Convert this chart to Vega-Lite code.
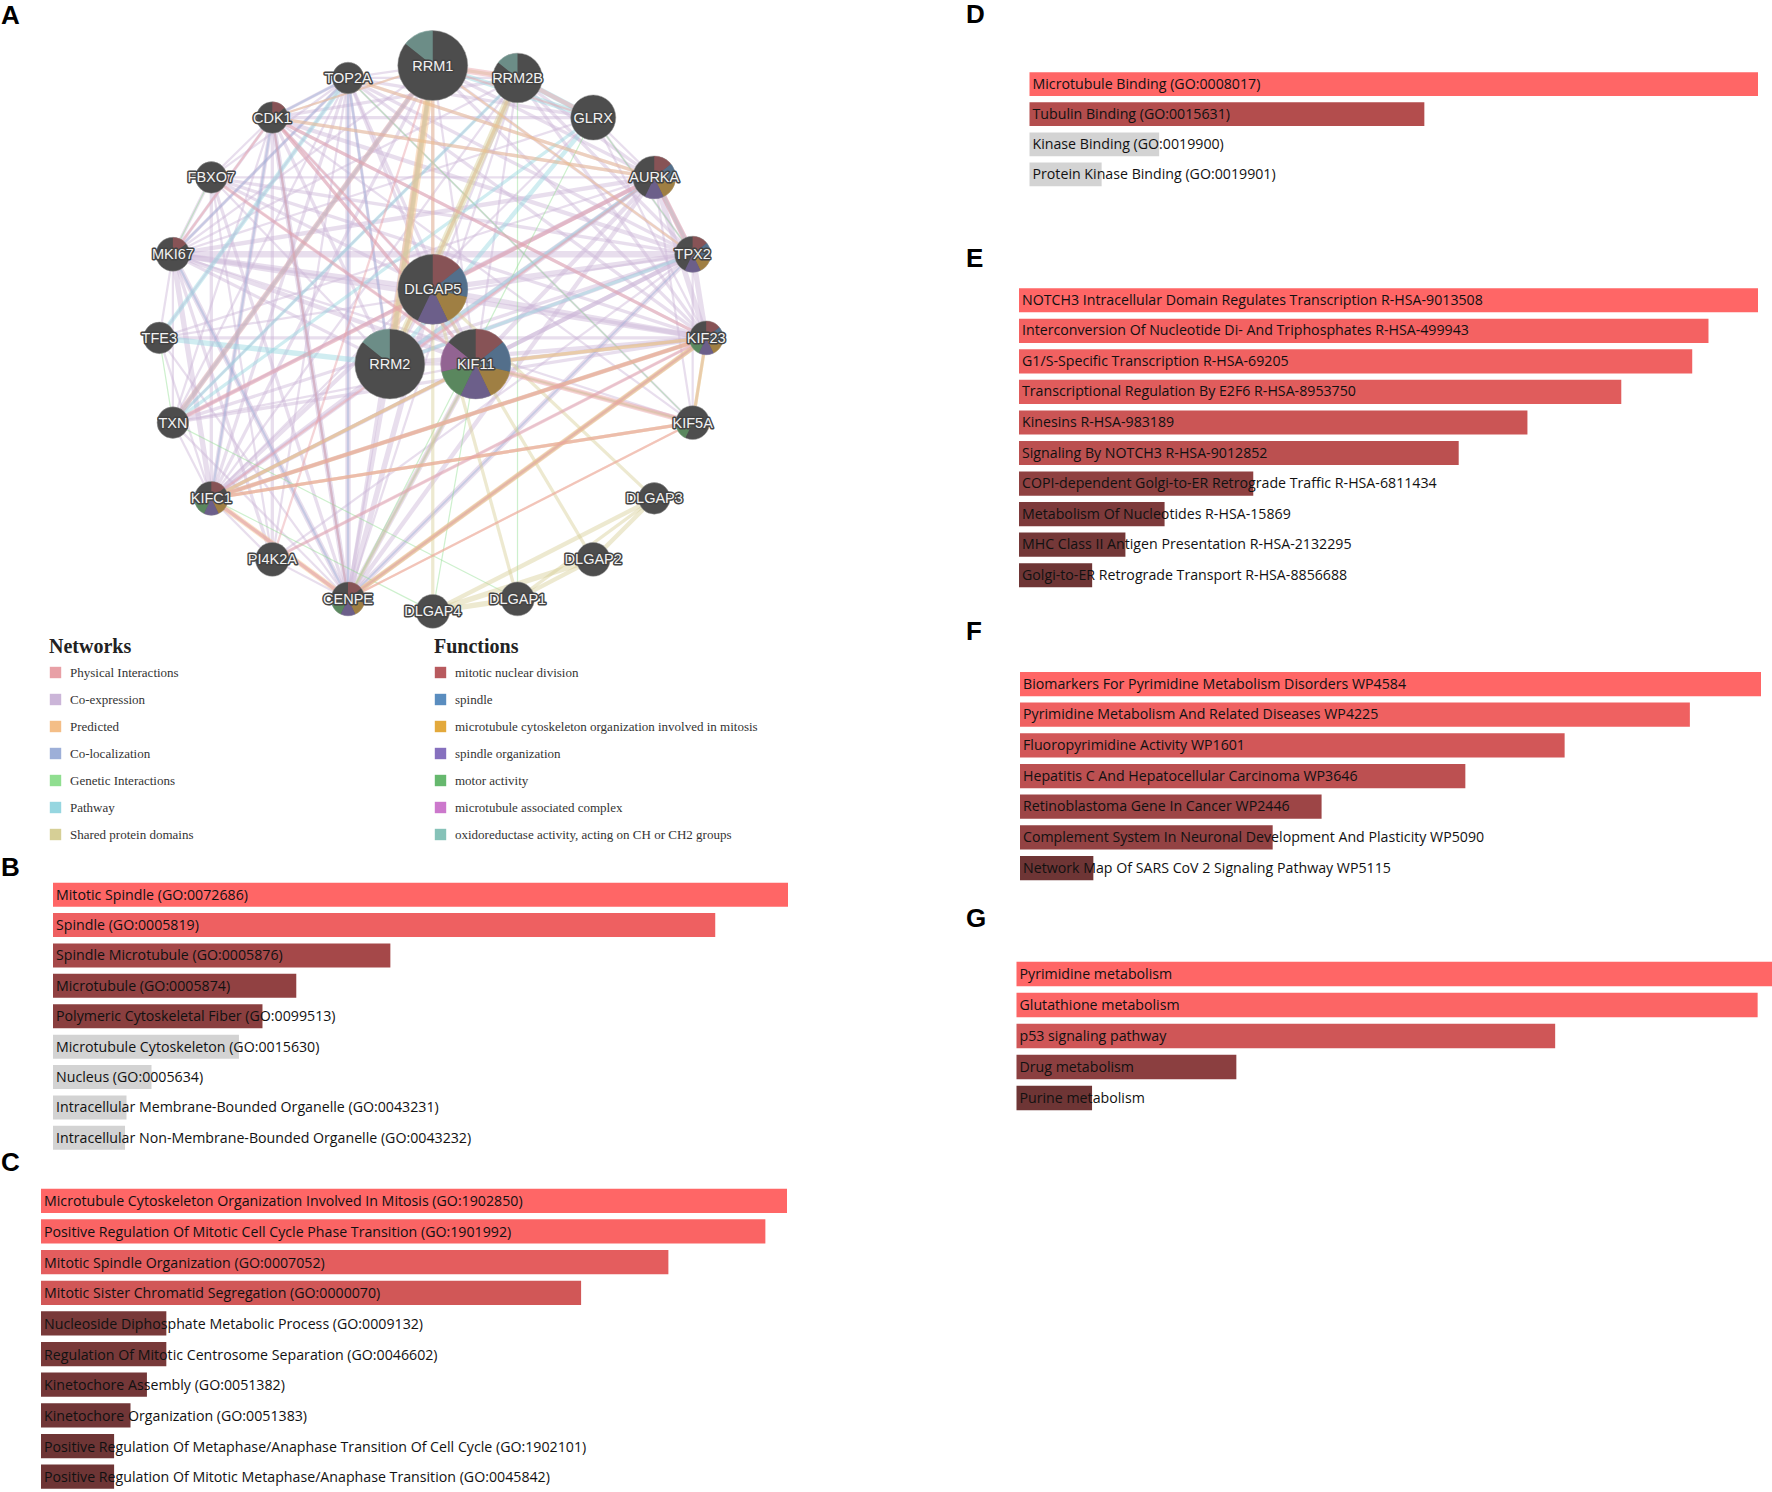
{"$schema":"https://vega.github.io/schema/vega-lite/v6.json","padding":0,"background":"white","config":{"view":{"stroke":null}},
"datasets":{
"nodes":[{"id":"RRM1","x":383,"y":58,"weight":31},{"id":"RRM2B","x":458,"y":69,"weight":22},{"id":"GLRX","x":525,"y":104,"weight":20},{"id":"AURKA","x":579,"y":157,"weight":19},{"id":"TPX2","x":613,"y":225,"weight":16},{"id":"KIF23","x":625,"y":299,"weight":15},{"id":"KIF5A","x":613,"y":374,"weight":15},{"id":"DLGAP3","x":579,"y":441,"weight":14},{"id":"DLGAP2","x":525,"y":495,"weight":15},{"id":"DLGAP1","x":458,"y":530,"weight":15},{"id":"DLGAP4","x":383,"y":541,"weight":15},{"id":"CENPE","x":308,"y":530,"weight":15},{"id":"PI4K2A","x":241,"y":495,"weight":15},{"id":"KIFC1","x":187,"y":441,"weight":15},{"id":"TXN","x":153,"y":374,"weight":14},{"id":"TFE3","x":141,"y":299,"weight":14},{"id":"MKI67","x":153,"y":225,"weight":15},{"id":"FBXO7","x":187,"y":157,"weight":14},{"id":"CDK1","x":241,"y":104,"weight":14},{"id":"TOP2A","x":308,"y":69,"weight":14},{"id":"DLGAP5","x":383,"y":256,"weight":31},{"id":"RRM2","x":345,"y":322,"weight":31},{"id":"KIF11","x":421,"y":322,"weight":31}],
"slices":[
{"id":"RRM1","f":"oxidoreductase activity, acting on CH or CH2 groups","a0":6,"a1":7},
{"id":"RRM2B","f":"oxidoreductase activity, acting on CH or CH2 groups","a0":6,"a1":7},
{"id":"RRM2","f":"oxidoreductase activity, acting on CH or CH2 groups","a0":6,"a1":7},
{"id":"DLGAP5","f":"mitotic nuclear division","a0":0,"a1":1},{"id":"DLGAP5","f":"spindle","a0":1,"a1":2},{"id":"DLGAP5","f":"microtubule cytoskeleton organization involved in mitosis","a0":2,"a1":3},{"id":"DLGAP5","f":"spindle organization","a0":3,"a1":4},
{"id":"KIF11","f":"mitotic nuclear division","a0":0,"a1":1},{"id":"KIF11","f":"spindle","a0":1,"a1":2},{"id":"KIF11","f":"microtubule cytoskeleton organization involved in mitosis","a0":2,"a1":3},{"id":"KIF11","f":"spindle organization","a0":3,"a1":4},{"id":"KIF11","f":"motor activity","a0":4,"a1":5},{"id":"KIF11","f":"microtubule associated complex","a0":5,"a1":6},
{"id":"AURKA","f":"mitotic nuclear division","a0":0,"a1":1},{"id":"AURKA","f":"spindle","a0":1,"a1":2},{"id":"AURKA","f":"microtubule cytoskeleton organization involved in mitosis","a0":2,"a1":3},{"id":"AURKA","f":"spindle organization","a0":3,"a1":4},
{"id":"TPX2","f":"mitotic nuclear division","a0":0,"a1":1},{"id":"TPX2","f":"spindle","a0":1,"a1":2},{"id":"TPX2","f":"microtubule cytoskeleton organization involved in mitosis","a0":2,"a1":3},{"id":"TPX2","f":"spindle organization","a0":3,"a1":4},
{"id":"KIF23","f":"mitotic nuclear division","a0":0,"a1":1},{"id":"KIF23","f":"spindle","a0":1,"a1":2},{"id":"KIF23","f":"microtubule cytoskeleton organization involved in mitosis","a0":2,"a1":3},{"id":"KIF23","f":"spindle organization","a0":3,"a1":4},{"id":"KIF23","f":"motor activity","a0":4,"a1":5},
{"id":"KIFC1","f":"mitotic nuclear division","a0":0,"a1":1},{"id":"KIFC1","f":"microtubule cytoskeleton organization involved in mitosis","a0":2,"a1":3},{"id":"KIFC1","f":"spindle organization","a0":3,"a1":4},{"id":"KIFC1","f":"motor activity","a0":4,"a1":5},
{"id":"CENPE","f":"mitotic nuclear division","a0":0,"a1":1},{"id":"CENPE","f":"microtubule cytoskeleton organization involved in mitosis","a0":2,"a1":3},{"id":"CENPE","f":"spindle organization","a0":3,"a1":4},{"id":"CENPE","f":"motor activity","a0":4,"a1":5},
{"id":"CDK1","f":"mitotic nuclear division","a0":0,"a1":1},{"id":"MKI67","f":"mitotic nuclear division","a0":0,"a1":1},{"id":"KIF5A","f":"motor activity","a0":4,"a1":5}],
"edges":[
{"s":"TOP2A","t":"CDK1","n":"Co-expression","w":3},{"s":"TOP2A","t":"MKI67","n":"Co-expression","w":3},{"s":"TOP2A","t":"KIFC1","n":"Co-expression","w":3},{"s":"TOP2A","t":"CENPE","n":"Co-expression","w":5},{"s":"TOP2A","t":"KIF23","n":"Co-expression","w":3},{"s":"TOP2A","t":"TPX2","n":"Co-expression","w":3},{"s":"TOP2A","t":"AURKA","n":"Co-expression","w":3},{"s":"TOP2A","t":"DLGAP5","n":"Co-expression","w":3},{"s":"TOP2A","t":"KIF11","n":"Co-expression","w":3},{"s":"TOP2A","t":"RRM2","n":"Co-expression","w":3},{"s":"TOP2A","t":"RRM1","n":"Co-expression","w":2},
{"s":"CDK1","t":"MKI67","n":"Co-expression","w":3},{"s":"CDK1","t":"KIFC1","n":"Co-expression","w":4},{"s":"CDK1","t":"CENPE","n":"Co-expression","w":5},{"s":"CDK1","t":"KIF23","n":"Co-expression","w":3},{"s":"CDK1","t":"TPX2","n":"Co-expression","w":4},{"s":"CDK1","t":"AURKA","n":"Co-expression","w":3},{"s":"CDK1","t":"DLGAP5","n":"Co-expression","w":3},{"s":"CDK1","t":"KIF11","n":"Co-expression","w":3},{"s":"CDK1","t":"RRM2","n":"Co-expression","w":3},{"s":"CDK1","t":"RRM1","n":"Co-expression","w":2},
{"s":"MKI67","t":"KIFC1","n":"Co-expression","w":5},{"s":"MKI67","t":"CENPE","n":"Co-expression","w":5},{"s":"MKI67","t":"KIF23","n":"Co-expression","w":5},{"s":"MKI67","t":"TPX2","n":"Co-expression","w":6},{"s":"MKI67","t":"AURKA","n":"Co-expression","w":4},{"s":"MKI67","t":"DLGAP5","n":"Co-expression","w":5},{"s":"MKI67","t":"KIF11","n":"Co-expression","w":4},{"s":"MKI67","t":"RRM2","n":"Co-expression","w":3},{"s":"MKI67","t":"RRM1","n":"Co-expression","w":2},
{"s":"KIFC1","t":"CENPE","n":"Co-expression","w":3},{"s":"KIFC1","t":"KIF23","n":"Co-expression","w":4},{"s":"KIFC1","t":"TPX2","n":"Co-expression","w":4},{"s":"KIFC1","t":"AURKA","n":"Co-expression","w":4},{"s":"KIFC1","t":"DLGAP5","n":"Co-expression","w":4},{"s":"KIFC1","t":"KIF11","n":"Co-expression","w":3},{"s":"KIFC1","t":"RRM2","n":"Co-expression","w":3},{"s":"KIFC1","t":"RRM1","n":"Co-expression","w":3},
{"s":"CENPE","t":"KIF23","n":"Co-expression","w":4},{"s":"CENPE","t":"TPX2","n":"Co-expression","w":5},{"s":"CENPE","t":"AURKA","n":"Co-expression","w":4},{"s":"CENPE","t":"DLGAP5","n":"Co-expression","w":5},{"s":"CENPE","t":"KIF11","n":"Co-expression","w":5},{"s":"CENPE","t":"RRM2","n":"Co-expression","w":4},{"s":"CENPE","t":"RRM1","n":"Co-expression","w":3},
{"s":"KIF23","t":"TPX2","n":"Co-expression","w":5},{"s":"KIF23","t":"AURKA","n":"Co-expression","w":5},{"s":"KIF23","t":"DLGAP5","n":"Co-expression","w":5},{"s":"KIF23","t":"KIF11","n":"Co-expression","w":4},{"s":"KIF23","t":"RRM2","n":"Co-expression","w":4},{"s":"KIF23","t":"RRM1","n":"Co-expression","w":3},
{"s":"TPX2","t":"AURKA","n":"Co-expression","w":5},{"s":"TPX2","t":"DLGAP5","n":"Co-expression","w":5},{"s":"TPX2","t":"KIF11","n":"Co-expression","w":4},{"s":"TPX2","t":"RRM2","n":"Co-expression","w":4},{"s":"TPX2","t":"RRM1","n":"Co-expression","w":3},
{"s":"AURKA","t":"DLGAP5","n":"Co-expression","w":4},{"s":"AURKA","t":"KIF11","n":"Co-expression","w":4},{"s":"AURKA","t":"RRM2","n":"Co-expression","w":4},{"s":"AURKA","t":"RRM1","n":"Co-expression","w":3},
{"s":"DLGAP5","t":"KIF11","n":"Co-expression","w":3},{"s":"DLGAP5","t":"RRM2","n":"Co-expression","w":3},{"s":"DLGAP5","t":"RRM1","n":"Co-expression","w":3},{"s":"KIF11","t":"RRM2","n":"Co-expression","w":3},{"s":"KIF11","t":"RRM1","n":"Co-expression","w":2},{"s":"RRM2","t":"RRM1","n":"Co-expression","w":3},
{"s":"TXN","t":"RRM1","n":"Co-expression","w":2},{"s":"TXN","t":"MKI67","n":"Co-expression","w":2},{"s":"TXN","t":"KIF23","n":"Co-expression","w":3},{"s":"TXN","t":"TPX2","n":"Co-expression","w":3},{"s":"TXN","t":"CDK1","n":"Co-expression","w":2},{"s":"TXN","t":"TOP2A","n":"Co-expression","w":2},{"s":"TXN","t":"KIFC1","n":"Co-expression","w":2},{"s":"TXN","t":"CENPE","n":"Co-expression","w":2},{"s":"TXN","t":"AURKA","n":"Co-expression","w":3},{"s":"TXN","t":"DLGAP5","n":"Co-expression","w":2},{"s":"TXN","t":"KIF11","n":"Co-expression","w":2},
{"s":"TFE3","t":"MKI67","n":"Co-expression","w":2},{"s":"TFE3","t":"KIF23","n":"Co-expression","w":3},{"s":"TFE3","t":"TOP2A","n":"Co-expression","w":2},{"s":"TFE3","t":"KIFC1","n":"Co-expression","w":2},{"s":"TFE3","t":"CENPE","n":"Co-expression","w":2},{"s":"TFE3","t":"TPX2","n":"Co-expression","w":2},{"s":"TFE3","t":"AURKA","n":"Co-expression","w":2},
{"s":"FBXO7","t":"KIFC1","n":"Co-expression","w":3},{"s":"FBXO7","t":"MKI67","n":"Co-expression","w":3},{"s":"FBXO7","t":"CENPE","n":"Co-expression","w":3},{"s":"FBXO7","t":"KIF23","n":"Co-expression","w":3},{"s":"FBXO7","t":"TPX2","n":"Co-expression","w":3},{"s":"FBXO7","t":"TOP2A","n":"Co-expression","w":2},{"s":"FBXO7","t":"CDK1","n":"Co-expression","w":2},{"s":"FBXO7","t":"AURKA","n":"Co-expression","w":2},{"s":"FBXO7","t":"DLGAP5","n":"Co-expression","w":3},{"s":"FBXO7","t":"KIF11","n":"Co-expression","w":2},{"s":"FBXO7","t":"RRM2","n":"Co-expression","w":2},
{"s":"RRM2B","t":"TPX2","n":"Co-expression","w":3},{"s":"RRM2B","t":"KIF23","n":"Co-expression","w":3},{"s":"RRM2B","t":"AURKA","n":"Co-expression","w":3},{"s":"RRM2B","t":"MKI67","n":"Co-expression","w":2},{"s":"RRM2B","t":"CDK1","n":"Co-expression","w":3},{"s":"RRM2B","t":"TOP2A","n":"Co-expression","w":2},{"s":"RRM2B","t":"KIFC1","n":"Co-expression","w":2},{"s":"RRM2B","t":"CENPE","n":"Co-expression","w":2},{"s":"RRM2B","t":"DLGAP5","n":"Co-expression","w":2},{"s":"RRM2B","t":"KIF11","n":"Co-expression","w":2},{"s":"RRM2B","t":"TXN","n":"Co-expression","w":2},
{"s":"GLRX","t":"CDK1","n":"Co-expression","w":3},{"s":"GLRX","t":"TOP2A","n":"Co-expression","w":3},{"s":"GLRX","t":"MKI67","n":"Co-expression","w":2},{"s":"GLRX","t":"KIFC1","n":"Co-expression","w":2},{"s":"GLRX","t":"TPX2","n":"Co-expression","w":2},{"s":"GLRX","t":"AURKA","n":"Co-expression","w":2},{"s":"GLRX","t":"KIF23","n":"Co-expression","w":2},
{"s":"PI4K2A","t":"KIFC1","n":"Co-expression","w":2},{"s":"PI4K2A","t":"CENPE","n":"Co-expression","w":2},{"s":"PI4K2A","t":"TOP2A","n":"Co-expression","w":2},{"s":"PI4K2A","t":"MKI67","n":"Co-expression","w":3},{"s":"PI4K2A","t":"CDK1","n":"Co-expression","w":3},{"s":"PI4K2A","t":"FBXO7","n":"Co-expression","w":2},{"s":"PI4K2A","t":"KIF23","n":"Co-expression","w":2},{"s":"PI4K2A","t":"TPX2","n":"Co-expression","w":2},
{"s":"KIF5A","t":"KIF23","n":"Co-expression","w":2},{"s":"KIF5A","t":"TPX2","n":"Co-expression","w":2},{"s":"KIF5A","t":"CDK1","n":"Co-expression","w":2},{"s":"KIF5A","t":"TOP2A","n":"Co-expression","w":2},{"s":"KIF5A","t":"MKI67","n":"Co-expression","w":2},{"s":"KIF5A","t":"AURKA","n":"Co-expression","w":2},
{"s":"TOP2A","t":"CENPE","n":"Co-localization","w":2},{"s":"CDK1","t":"CENPE","n":"Co-localization","w":2},{"s":"MKI67","t":"CENPE","n":"Co-localization","w":2},{"s":"TOP2A","t":"RRM2","n":"Co-localization","w":2},{"s":"KIF23","t":"CENPE","n":"Co-localization","w":1.5},{"s":"KIF11","t":"CENPE","n":"Co-localization","w":1.5},{"s":"TOP2A","t":"MKI67","n":"Co-localization","w":2},{"s":"CDK1","t":"TOP2A","n":"Co-localization","w":2},{"s":"CDK1","t":"KIFC1","n":"Co-localization","w":2},{"s":"TPX2","t":"CENPE","n":"Co-localization","w":1.5},
{"s":"TFE3","t":"TXN","n":"Genetic Interactions","w":1},{"s":"TXN","t":"DLGAP1","n":"Genetic Interactions","w":1},{"s":"FBXO7","t":"MKI67","n":"Genetic Interactions","w":1},{"s":"RRM2B","t":"DLGAP1","n":"Genetic Interactions","w":1},{"s":"KIF11","t":"DLGAP4","n":"Genetic Interactions","w":1},{"s":"KIF5A","t":"KIF11","n":"Genetic Interactions","w":1},{"s":"GLRX","t":"TPX2","n":"Genetic Interactions","w":1},{"s":"GLRX","t":"CENPE","n":"Genetic Interactions","w":1},{"s":"KIFC1","t":"DLGAP4","n":"Genetic Interactions","w":1},{"s":"TOP2A","t":"KIF5A","n":"Genetic Interactions","w":1},
{"s":"RRM2","t":"GLRX","n":"Pathway","w":4},{"s":"RRM2","t":"TFE3","n":"Pathway","w":5},{"s":"RRM1","t":"GLRX","n":"Pathway","w":5},{"s":"RRM2B","t":"GLRX","n":"Pathway","w":5},{"s":"RRM1","t":"TXN","n":"Pathway","w":4},{"s":"TXN","t":"GLRX","n":"Pathway","w":3},{"s":"TFE3","t":"TOP2A","n":"Pathway","w":4},{"s":"AURKA","t":"TPX2","n":"Pathway","w":3},{"s":"AURKA","t":"RRM2","n":"Pathway","w":3},{"s":"TPX2","t":"RRM2","n":"Pathway","w":3},{"s":"RRM2","t":"RRM2B","n":"Pathway","w":3},{"s":"RRM2","t":"RRM1","n":"Pathway","w":4},{"s":"TXN","t":"RRM2B","n":"Pathway","w":3},
{"s":"DLGAP1","t":"DLGAP2","n":"Shared protein domains","w":4},{"s":"DLGAP1","t":"DLGAP3","n":"Shared protein domains","w":3},{"s":"DLGAP1","t":"DLGAP4","n":"Shared protein domains","w":5},{"s":"DLGAP2","t":"DLGAP3","n":"Shared protein domains","w":4},{"s":"DLGAP2","t":"DLGAP4","n":"Shared protein domains","w":5},{"s":"DLGAP3","t":"DLGAP4","n":"Shared protein domains","w":4},{"s":"DLGAP5","t":"DLGAP1","n":"Shared protein domains","w":3},{"s":"DLGAP5","t":"DLGAP2","n":"Shared protein domains","w":3},{"s":"DLGAP5","t":"DLGAP3","n":"Shared protein domains","w":3},{"s":"DLGAP5","t":"DLGAP4","n":"Shared protein domains","w":3},{"s":"RRM2","t":"RRM1","n":"Shared protein domains","w":5},{"s":"RRM2","t":"RRM2B","n":"Shared protein domains","w":7},{"s":"RRM1","t":"RRM2B","n":"Shared protein domains","w":3},{"s":"KIF11","t":"KIF23","n":"Shared protein domains","w":3},{"s":"KIF11","t":"KIF5A","n":"Shared protein domains","w":3},{"s":"KIF11","t":"KIFC1","n":"Shared protein domains","w":3},{"s":"KIF11","t":"CENPE","n":"Shared protein domains","w":3},{"s":"KIFC1","t":"KIF5A","n":"Shared protein domains","w":3},{"s":"KIF23","t":"CENPE","n":"Shared protein domains","w":4},{"s":"KIF23","t":"KIF5A","n":"Shared protein domains","w":3},{"s":"KIFC1","t":"KIF23","n":"Shared protein domains","w":3},
{"s":"RRM1","t":"RRM2","n":"Predicted","w":8},{"s":"DLGAP5","t":"RRM1","n":"Predicted","w":3},{"s":"KIFC1","t":"KIF23","n":"Predicted","w":4},{"s":"KIFC1","t":"KIF11","n":"Predicted","w":3},{"s":"KIFC1","t":"KIF5A","n":"Predicted","w":3},{"s":"CENPE","t":"KIF23","n":"Predicted","w":5},{"s":"CENPE","t":"KIFC1","n":"Predicted","w":5},{"s":"CDK1","t":"AURKA","n":"Predicted","w":3},{"s":"CDK1","t":"RRM1","n":"Predicted","w":2},{"s":"KIF23","t":"KIF5A","n":"Predicted","w":3},{"s":"TOP2A","t":"AURKA","n":"Predicted","w":3},{"s":"RRM1","t":"TPX2","n":"Predicted","w":2},{"s":"KIF11","t":"KIF23","n":"Predicted","w":3},{"s":"CENPE","t":"KIF5A","n":"Predicted","w":2},{"s":"RRM2","t":"RRM2B","n":"Predicted","w":3},
{"s":"RRM1","t":"RRM2B","n":"Physical Interactions","w":6},{"s":"AURKA","t":"TPX2","n":"Physical Interactions","w":5},{"s":"RRM1","t":"TXN","n":"Physical Interactions","w":5},{"s":"KIF11","t":"KIF5A","n":"Physical Interactions","w":5},{"s":"CDK1","t":"KIF11","n":"Physical Interactions","w":3},{"s":"CDK1","t":"DLGAP5","n":"Physical Interactions","w":2},{"s":"CDK1","t":"KIF23","n":"Physical Interactions","w":3},{"s":"FBXO7","t":"KIF11","n":"Physical Interactions","w":3},{"s":"AURKA","t":"TXN","n":"Physical Interactions","w":4},{"s":"AURKA","t":"KIFC1","n":"Physical Interactions","w":2},{"s":"KIF23","t":"KIFC1","n":"Physical Interactions","w":3},{"s":"KIF23","t":"CENPE","n":"Physical Interactions","w":2},{"s":"KIFC1","t":"CENPE","n":"Physical Interactions","w":3},{"s":"PI4K2A","t":"KIF23","n":"Physical Interactions","w":3},{"s":"RRM2B","t":"GLRX","n":"Physical Interactions","w":4},{"s":"RRM1","t":"GLRX","n":"Physical Interactions","w":2},{"s":"KIF5A","t":"KIFC1","n":"Physical Interactions","w":3},{"s":"KIF5A","t":"CENPE","n":"Physical Interactions","w":2},{"s":"MKI67","t":"CDK1","n":"Physical Interactions","w":2},{"s":"CDK1","t":"CENPE","n":"Physical Interactions","w":2},{"s":"RRM1","t":"PI4K2A","n":"Physical Interactions","w":2}],
"terms":[
{"panel":"B","term":"Mitotic Spindle (GO:0072686)","score":1,"sig":true},{"panel":"B","term":"Spindle (GO:0005819)","score":0.901,"sig":true},{"panel":"B","term":"Spindle Microtubule (GO:0005876)","score":0.459,"sig":true},{"panel":"B","term":"Microtubule (GO:0005874)","score":0.331,"sig":true},{"panel":"B","term":"Polymeric Cytoskeletal Fiber (GO:0099513)","score":0.285,"sig":true},{"panel":"B","term":"Microtubule Cytoskeleton (GO:0015630)","score":0.253,"sig":false},{"panel":"B","term":"Nucleus (GO:0005634)","score":0.134,"sig":false},{"panel":"B","term":"Intracellular Membrane-Bounded Organelle (GO:0043231)","score":0.1,"sig":false},{"panel":"B","term":"Intracellular Non-Membrane-Bounded Organelle (GO:0043232)","score":0.098,"sig":false},
{"panel":"C","term":"Microtubule Cytoskeleton Organization Involved In Mitosis (GO:1902850)","score":1,"sig":true},{"panel":"C","term":"Positive Regulation Of Mitotic Cell Cycle Phase Transition (GO:1901992)","score":0.971,"sig":true},{"panel":"C","term":"Mitotic Spindle Organization (GO:0007052)","score":0.841,"sig":true},{"panel":"C","term":"Mitotic Sister Chromatid Segregation (GO:0000070)","score":0.724,"sig":true},{"panel":"C","term":"Nucleoside Diphosphate Metabolic Process (GO:0009132)","score":0.168,"sig":true},{"panel":"C","term":"Regulation Of Mitotic Centrosome Separation (GO:0046602)","score":0.168,"sig":true},{"panel":"C","term":"Kinetochore Assembly (GO:0051382)","score":0.142,"sig":true},{"panel":"C","term":"Kinetochore Organization (GO:0051383)","score":0.12,"sig":true},{"panel":"C","term":"Positive Regulation Of Metaphase/Anaphase Transition Of Cell Cycle (GO:1902101)","score":0.098,"sig":true},{"panel":"C","term":"Positive Regulation Of Mitotic Metaphase/Anaphase Transition (GO:0045842)","score":0.098,"sig":true},
{"panel":"D","term":"Microtubule Binding (GO:0008017)","score":1,"sig":true},{"panel":"D","term":"Tubulin Binding (GO:0015631)","score":0.542,"sig":true},{"panel":"D","term":"Kinase Binding (GO:0019900)","score":0.178,"sig":false},{"panel":"D","term":"Protein Kinase Binding (GO:0019901)","score":0.099,"sig":false},
{"panel":"E","term":"NOTCH3 Intracellular Domain Regulates Transcription R-HSA-9013508","score":1,"sig":true},{"panel":"E","term":"Interconversion Of Nucleotide Di- And Triphosphates R-HSA-499943","score":0.933,"sig":true},{"panel":"E","term":"G1/S-Specific Transcription R-HSA-69205","score":0.911,"sig":true},{"panel":"E","term":"Transcriptional Regulation By E2F6 R-HSA-8953750","score":0.815,"sig":true},{"panel":"E","term":"Kinesins R-HSA-983189","score":0.688,"sig":true},{"panel":"E","term":"Signaling By NOTCH3 R-HSA-9012852","score":0.595,"sig":true},{"panel":"E","term":"COPI-dependent Golgi-to-ER Retrograde Traffic R-HSA-6811434","score":0.317,"sig":true},{"panel":"E","term":"Metabolism Of Nucleotides R-HSA-15869","score":0.197,"sig":true},{"panel":"E","term":"MHC Class II Antigen Presentation R-HSA-2132295","score":0.144,"sig":true},{"panel":"E","term":"Golgi-to-ER Retrograde Transport R-HSA-8856688","score":0.099,"sig":true},
{"panel":"F","term":"Biomarkers For Pyrimidine Metabolism Disorders WP4584","score":1,"sig":true},{"panel":"F","term":"Pyrimidine Metabolism And Related Diseases WP4225","score":0.904,"sig":true},{"panel":"F","term":"Fluoropyrimidine Activity WP1601","score":0.735,"sig":true},{"panel":"F","term":"Hepatitis C And Hepatocellular Carcinoma WP3646","score":0.601,"sig":true},{"panel":"F","term":"Retinoblastoma Gene In Cancer WP2446","score":0.407,"sig":true},{"panel":"F","term":"Complement System In Neuronal Development And Plasticity WP5090","score":0.341,"sig":true},{"panel":"F","term":"Network Map Of SARS CoV 2 Signaling Pathway WP5115","score":0.099,"sig":true},
{"panel":"G","term":"Pyrimidine metabolism","score":1,"sig":true},{"panel":"G","term":"Glutathione metabolism","score":0.981,"sig":true},{"panel":"G","term":"p53 signaling pathway","score":0.713,"sig":true},{"panel":"G","term":"Drug metabolism","score":0.291,"sig":true},{"panel":"G","term":"Purine metabolism","score":0.1,"sig":true}]
},
"spacing":0,
"hconcat":[
{"spacing":0,"bounds":"flush","vconcat":[
{"width":960,"height":855,"title":{"text":"A","anchor":"start","frame":"group","fontSize":26,"font":"Liberation Sans","fontWeight":"bold","baseline":"top","offset":0,"dx":1,"dy":29},
"layer":[
{"data":{"name":"edges"},"transform":[{"lookup":"s","from":{"data":{"name":"nodes"},"key":"id","fields":["x","y"]},"as":["x1","y1"]},{"lookup":"t","from":{"data":{"name":"nodes"},"key":"id","fields":["x","y"]},"as":["x2","y2"]}],
"mark":{"type":"rule","opacity":0.45},
"encoding":{"x":{"field":"x1","type":"quantitative","axis":null,"scale":{"domain":[0,849.6],"nice":false,"zero":false}},"y":{"field":"y1","type":"quantitative","axis":null,"scale":{"domain":[0,756.6],"nice":false,"zero":false,"reverse":true}},"x2":{"field":"x2"},"y2":{"field":"y2"},
"stroke":{"field":"n","type":"nominal","scale":{"domain":["Physical Interactions","Co-expression","Predicted","Co-localization","Genetic Interactions","Pathway","Shared protein domains"],"range":["#E8A0A6","#CBB5D8","#F4BE87","#9DAFD8","#90DE90","#96D6E0","#D6CF96"]},"legend":null},
"strokeWidth":{"field":"w","type":"quantitative","scale":{"domain":[1,8],"range":[1.2,8.5]},"legend":null}}},
{"data":{"name":"edges"},"transform":[{"lookup":"s","from":{"data":{"name":"nodes"},"key":"id","fields":["x","y"]}}],"mark":{"type":"point","filled":true,"shape":"square","opacity":0,"size":10},
"encoding":{"x":{"field":"x","type":"quantitative"},"y":{"field":"y","type":"quantitative"},"color":{"field":"n","type":"nominal","scale":{"domain":["Physical Interactions","Co-expression","Predicted","Co-localization","Genetic Interactions","Pathway","Shared protein domains"],"range":["#E8A0A6","#CBB5D8","#F4BE87","#9DAFD8","#90DE90","#96D6E0","#D6CF96"]},"legend":{"title":"Networks","orient":"none","legendX":49,"legendY":637,"symbolType":"square","symbolSize":130,"symbolOpacity":1,"symbolStrokeWidth":0,"rowPadding":13,"titleFont":"Liberation Serif","titleFontSize":20,"titleFontWeight":"bold","titleColor":"#222","titlePadding":9,"labelFont":"Liberation Serif","labelFontSize":13,"labelColor":"#333","labelOffset":8,"labelLimit":400}}}},
{"data":{"name":"nodes"},"mark":{"type":"point","filled":true,"shape":"circle","fill":"#4D4D4D","opacity":1,"stroke":"#999","strokeWidth":0.5},
"encoding":{"x":{"field":"x","type":"quantitative"},"y":{"field":"y","type":"quantitative"},"size":{"field":"weight","type":"quantitative","scale":{"type":"pow","exponent":2,"domain":[0,31],"range":[0,4900]},"legend":null}}},
{"data":{"name":"slices"},"transform":[{"lookup":"id","from":{"data":{"name":"nodes"},"key":"id","fields":["x","y","weight"]}}],
"mark":{"type":"arc","opacity":0.55},
"encoding":{"x":{"field":"x","type":"quantitative"},"y":{"field":"y","type":"quantitative"},"theta":{"field":"a0","type":"quantitative","scale":{"domain":[0,7],"range":[0,6.2832]}},"theta2":{"field":"a1"},"radius":{"field":"weight","type":"quantitative","scale":{"type":"linear","domain":[0,31],"range":[0,35],"zero":true}},
"fill":{"field":"f","type":"nominal","scale":{"domain":["mitotic nuclear division","spindle","microtubule cytoskeleton organization involved in mitosis","spindle organization","motor activity","microtubule associated complex","oxidoreductase activity, acting on CH or CH2 groups"],"range":["#B85A5E","#5A8DBF","#E3A93C","#8670BE","#66B86E","#CC78CC","#86C2B8"]},"legend":{"title":"Functions","orient":"none","legendX":434,"legendY":637,"symbolType":"square","symbolSize":130,"symbolOpacity":1,"symbolStrokeWidth":0,"rowPadding":13,"titleFont":"Liberation Serif","titleFontSize":20,"titleFontWeight":"bold","titleColor":"#222","titlePadding":9,"labelFont":"Liberation Serif","labelFontSize":13,"labelColor":"#333","labelOffset":8,"labelLimit":500}}}},
{"data":{"name":"nodes"},"mark":{"type":"text","font":"Liberation Sans","fontSize":14.5,"baseline":"middle","dy":1,"stroke":"#444","strokeWidth":3,"strokeJoin":"round","fill":"#444"},"encoding":{"x":{"field":"x","type":"quantitative"},"y":{"field":"y","type":"quantitative"},"text":{"field":"id"}}},
{"data":{"name":"nodes"},"mark":{"type":"text","font":"Liberation Sans","fontSize":14.5,"baseline":"middle","dy":1,"fill":"#F2F2F2"},"encoding":{"x":{"field":"x","type":"quantitative"},"y":{"field":"y","type":"quantitative"},"text":{"field":"id"}}}
]},
{"width":960,"height":297,"title":{"text":"B","anchor":"start","frame":"group","fontSize":26,"font":"Liberation Sans","fontWeight":"bold","baseline":"top","offset":0,"dx":1,"dy":26},"data":{"name":"terms"},"transform":[{"filter":"datum.panel==='B'"}],
"encoding":{"y":{"field":"term","type":"nominal","sort":null,"axis":null,"scale":{"range":[24.5,298],"paddingInner":0.21,"paddingOuter":0.105}}},
"layer":[{"mark":"bar","encoding":{"x":{"field":"score","type":"quantitative","axis":null,"scale":{"domain":[0,1],"range":[53,788]}},"color":{"condition":{"test":"!datum.sig","value":"#D3D3D3"},"field":"score","type":"quantitative","scale":{"domain":[0,1],"range":["#5F3030","#FF6666"]},"legend":null}}},
{"mark":{"type":"text","align":"left","dx":3,"dy":1,"font":"Open Sans","fontSize":14.2,"fill":"#111"},"encoding":{"x":{"datum":0,"type":"quantitative"},"text":{"field":"term"}}}]},
{"width":960,"height":340,"title":{"text":"C","anchor":"start","frame":"group","fontSize":26,"font":"Liberation Sans","fontWeight":"bold","baseline":"top","offset":0,"dx":1,"dy":24},"data":{"name":"terms"},"transform":[{"filter":"datum.panel==='C'"}],
"encoding":{"y":{"field":"term","type":"nominal","sort":null,"axis":null,"scale":{"range":[33.5,340],"paddingInner":0.21,"paddingOuter":0.105}}},
"layer":[{"mark":"bar","encoding":{"x":{"field":"score","type":"quantitative","axis":null,"scale":{"domain":[0,1],"range":[41,787]}},"color":{"condition":{"test":"!datum.sig","value":"#D3D3D3"},"field":"score","type":"quantitative","scale":{"domain":[0,1],"range":["#5F3030","#FF6666"]},"legend":null}}},
{"mark":{"type":"text","align":"left","dx":3,"dy":1.5,"font":"Open Sans","fontSize":14.2,"fill":"#111"},"encoding":{"x":{"datum":0,"type":"quantitative"},"text":{"field":"term"}}}]}
]},
{"spacing":0,"bounds":"flush","vconcat":[
{"width":812,"height":246,"title":{"text":"D","anchor":"start","frame":"group","fontSize":26,"font":"Liberation Sans","fontWeight":"bold","baseline":"top","offset":0,"dx":6,"dy":28},"data":{"name":"terms"},"transform":[{"filter":"datum.panel==='D'"}],
"encoding":{"y":{"field":"term","type":"nominal","sort":null,"axis":null,"scale":{"range":[69,189.5],"paddingInner":0.21,"paddingOuter":0.105}}},
"layer":[{"mark":"bar","encoding":{"x":{"field":"score","type":"quantitative","axis":null,"scale":{"domain":[0,1],"range":[69.5,798]}},"color":{"condition":{"test":"!datum.sig","value":"#D3D3D3"},"field":"score","type":"quantitative","scale":{"domain":[0,1],"range":["#5F3030","#FF6666"]},"legend":null}}},
{"mark":{"type":"text","align":"left","dx":3,"dy":0.5,"font":"Open Sans","fontSize":14.2,"fill":"#111"},"encoding":{"x":{"datum":0,"type":"quantitative"},"text":{"field":"term"}}}]},
{"width":812,"height":374,"title":{"text":"E","anchor":"start","frame":"group","fontSize":26,"font":"Liberation Sans","fontWeight":"bold","baseline":"top","offset":0,"dx":6,"dy":26},"data":{"name":"terms"},"transform":[{"filter":"datum.panel==='E'"}],
"encoding":{"y":{"field":"term","type":"nominal","sort":null,"axis":null,"scale":{"range":[39,344.5],"paddingInner":0.21,"paddingOuter":0.105}}},
"layer":[{"mark":"bar","encoding":{"x":{"field":"score","type":"quantitative","axis":null,"scale":{"domain":[0,1],"range":[59,798]}},"color":{"condition":{"test":"!datum.sig","value":"#D3D3D3"},"field":"score","type":"quantitative","scale":{"domain":[0,1],"range":["#5F3030","#FF6666"]},"legend":null}}},
{"mark":{"type":"text","align":"left","dx":3,"dy":0.5,"font":"Open Sans","fontSize":14.2,"fill":"#111"},"encoding":{"x":{"datum":0,"type":"quantitative"},"text":{"field":"term"}}}]},
{"width":812,"height":287,"title":{"text":"F","anchor":"start","frame":"group","fontSize":26,"font":"Liberation Sans","fontWeight":"bold","baseline":"top","offset":0,"dx":6,"dy":25},"data":{"name":"terms"},"transform":[{"filter":"datum.panel==='F'"}],
"encoding":{"y":{"field":"term","type":"nominal","sort":null,"axis":null,"scale":{"range":[48.7,263.4],"paddingInner":0.21,"paddingOuter":0.105}}},
"layer":[{"mark":"bar","encoding":{"x":{"field":"score","type":"quantitative","axis":null,"scale":{"domain":[0,1],"range":[60,801]}},"color":{"condition":{"test":"!datum.sig","value":"#D3D3D3"},"field":"score","type":"quantitative","scale":{"domain":[0,1],"range":["#5F3030","#FF6666"]},"legend":null}}},
{"mark":{"type":"text","align":"left","dx":3,"dy":0.5,"font":"Open Sans","fontSize":14.2,"fill":"#111"},"encoding":{"x":{"datum":0,"type":"quantitative"},"text":{"field":"term"}}}]},
{"width":812,"height":585,"title":{"text":"G","anchor":"start","frame":"group","fontSize":26,"font":"Liberation Sans","fontWeight":"bold","baseline":"top","offset":0,"dx":6,"dy":25},"data":{"name":"terms"},"transform":[{"filter":"datum.panel==='G'"}],
"encoding":{"y":{"field":"term","type":"nominal","sort":null,"axis":null,"scale":{"range":[51.5,206.5],"paddingInner":0.21,"paddingOuter":0.105}}},
"layer":[{"mark":"bar","encoding":{"x":{"field":"score","type":"quantitative","axis":null,"scale":{"domain":[0,1],"range":[56.5,812]}},"color":{"condition":{"test":"!datum.sig","value":"#D3D3D3"},"field":"score","type":"quantitative","scale":{"domain":[0,1],"range":["#5F3030","#FF6666"]},"legend":null}}},
{"mark":{"type":"text","align":"left","dx":3,"dy":0.5,"font":"Open Sans","fontSize":14.2,"fill":"#111"},"encoding":{"x":{"datum":0,"type":"quantitative"},"text":{"field":"term"}}}]}
]}
]}
